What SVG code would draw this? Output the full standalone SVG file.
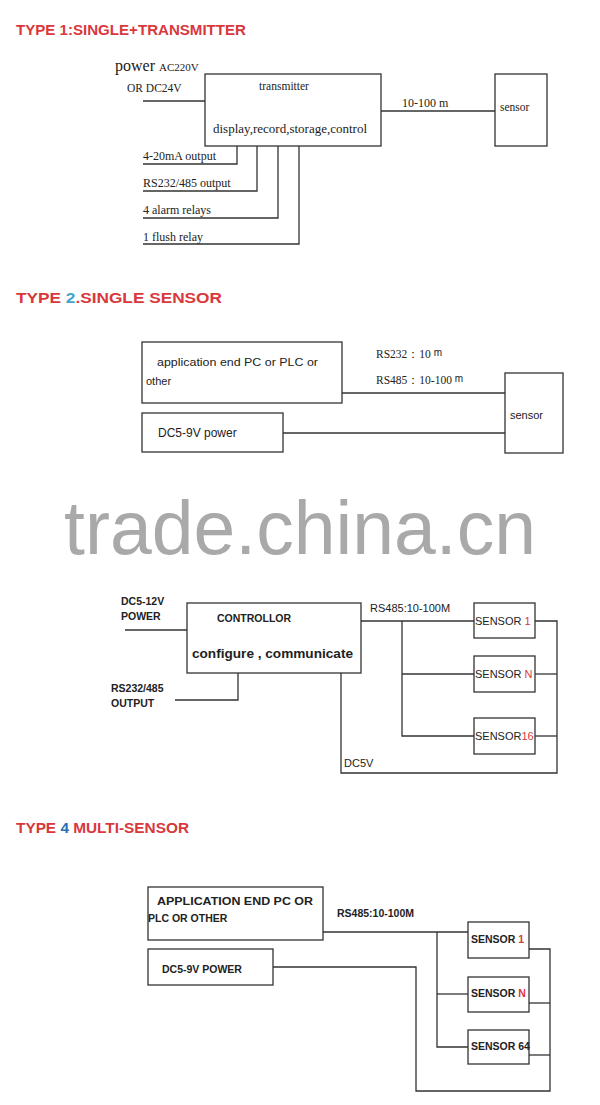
<svg xmlns="http://www.w3.org/2000/svg" width="600" height="1105" viewBox="0 0 600 1105">
<style>
.bx{fill:none;stroke:#333;stroke-width:1.3}
.ln{fill:none;stroke:#333;stroke-width:1.3}
.title{font-family:"Liberation Sans",Arial,sans-serif;font-weight:bold;font-size:14px;fill:#d8383c}
.sr{font-family:"Liberation Serif","Times New Roman",serif;fill:#222;font-size:12px}
.ss{font-family:"Liberation Sans",Arial,sans-serif;fill:#222;font-size:11px}
.sb{font-family:"Liberation Sans",Arial,sans-serif;fill:#222;font-size:10.5px;font-weight:bold}
.red{fill:#d8383c}
.wm{font-family:"Liberation Sans",Arial,sans-serif;font-size:76px;fill:#a9a9a9}
</style>
<rect width="600" height="1105" fill="#fff"/>

<!-- TYPE 1 -->
<text class="title" x="16" y="35" textLength="230" lengthAdjust="spacingAndGlyphs">TYPE 1:SINGLE+TRANSMITTER</text>
<g id="power1">
<text class="sr" x="115" y="71" style="font-size:16px">power <tspan style="font-size:11px">AC220V</tspan></text>
<text class="sr" x="127" y="92" style="font-size:11.5px">OR DC24V</text>
</g>
<g id="transmitter">
<rect class="bx" x="205" y="74" width="176" height="72"/>
<text class="sr" x="284" y="90" text-anchor="middle" style="font-size:11.5px">transmitter</text>
<text class="sr" x="213" y="133" textLength="154" lengthAdjust="spacingAndGlyphs">display,record,storage,control</text>
</g>
<g id="sensor1">
<rect class="bx" x="495" y="74" width="52" height="72"/>
<text class="sr" x="500" y="111" style="font-size:11.5px">sensor</text>
</g>
<g id="outputs1">
<text class="sr" x="143" y="160">4-20mA  output</text>
<text class="sr" x="143" y="187">RS232/485  output</text>
<text class="sr" x="143" y="214">4  alarm relays</text>
<text class="sr" x="143" y="241">1   flush relay</text>
</g>
<g id="connectors1">
<line class="ln" x1="143" y1="101" x2="205" y2="101"/>
<line class="ln" x1="381" y1="111" x2="495" y2="111"/>
<text class="sr" x="402" y="107">10-100 m</text>
<polyline class="ln" points="143,164 237,164 237,146"/>
<polyline class="ln" points="143,191 257,191 257,146"/>
<polyline class="ln" points="143,218 278,218 278,146"/>
<polyline class="ln" points="143,244 299,244 299,146"/>
</g>

<!-- TYPE 2 -->
<text class="title" x="16" y="303" textLength="206" lengthAdjust="spacingAndGlyphs">TYPE <tspan fill="#3ea6cc">2</tspan>.SINGLE SENSOR</text>
<g id="app2">
<rect class="bx" x="142" y="342" width="200" height="61"/>
<text class="ss" x="157" y="366" textLength="161" lengthAdjust="spacingAndGlyphs">application end PC or PLC or</text>
<text class="ss" x="146" y="385">other</text>
</g>
<g id="power2">
<rect class="bx" x="142" y="413" width="141" height="39"/>
<text class="ss" x="158" y="437" style="font-size:12px">DC5-9V power</text>
</g>
<g id="sensor2">
<rect class="bx" x="505" y="373" width="58" height="80"/>
<text class="ss" x="510" y="419">sensor</text>
</g>
<g id="connectors2">
<line class="ln" x1="342" y1="393" x2="505" y2="393"/>
<line class="ln" x1="283" y1="433" x2="505" y2="433"/>
<text class="sr" x="376" y="358" style="font-size:11.5px">RS232：10 <tspan class="ss" style="font-size:10px" dy="-2">m</tspan></text>
<text class="sr" x="376" y="384" style="font-size:11.5px">RS485：10-100 <tspan class="ss" style="font-size:10px" dy="-2">m</tspan></text>
</g>

<!-- watermark -->
<text class="wm" x="64" y="554" textLength="472" lengthAdjust="spacingAndGlyphs">trade.china.cn</text>

<!-- TYPE 3 -->
<g id="power3">
<text class="sb" x="121" y="605">DC5-12V</text>
<text class="sb" x="121" y="620">POWER</text>
</g>
<g id="controller">
<rect class="bx" x="187" y="603" width="174" height="70"/>
<text class="sb" x="217" y="622">CONTROLLOR</text>
<text class="sb" x="192" y="658" style="font-size:12.5px" textLength="161" lengthAdjust="spacingAndGlyphs">configure , communicate</text>
</g>
<g id="output3">
<text class="sb" x="111" y="692">RS232/485</text>
<text class="sb" x="111" y="707">OUTPUT</text>
</g>
<g id="s3-1">
<rect class="bx" x="474" y="603" width="61" height="35"/>
<text class="ss" x="475" y="625">SENSOR <tspan class="red">1</tspan></text>
</g>
<g id="s3-n">
<rect class="bx" x="474" y="656" width="61" height="36"/>
<text class="ss" x="475" y="678">SENSOR <tspan class="red">N</tspan></text>
</g>
<g id="s3-16">
<rect class="bx" x="474" y="718" width="61" height="36"/>
<text class="ss" x="475" y="740">SENSOR<tspan class="red">16</tspan></text>
</g>
<g id="connectors3">
<line class="ln" x1="125" y1="630" x2="187" y2="630"/>
<polyline class="ln" points="175,700 238,700 238,673"/>
<line class="ln" x1="361" y1="621" x2="474" y2="621"/>
<polyline class="ln" points="402,621 402,736 474,736"/>
<line class="ln" x1="402" y1="674" x2="474" y2="674"/>
<polyline class="ln" points="341,673 341,773 557,773 557,621 535,621"/>
<line class="ln" x1="535" y1="674" x2="557" y2="674"/>
<line class="ln" x1="535" y1="736" x2="557" y2="736"/>
<text class="ss" x="370" y="612">RS485:10-100M</text>
<text class="ss" x="344" y="767">DC5V</text>
</g>

<!-- TYPE 4 -->
<text class="title" x="16" y="833" textLength="173" lengthAdjust="spacingAndGlyphs">TYPE <tspan fill="#2e6fb4">4</tspan> MULTI-SENSOR</text>
<g id="app4">
<rect class="bx" x="148" y="887" width="175" height="53"/>
<text class="sb" x="157" y="905" textLength="156" lengthAdjust="spacingAndGlyphs">APPLICATION END PC OR</text>
<text class="sb" x="148" y="922">PLC OR OTHER</text>
</g>
<g id="power4">
<rect class="bx" x="148" y="949" width="125" height="36"/>
<text class="sb" x="162" y="973">DC5-9V POWER</text>
</g>
<g id="s4-1">
<rect class="bx" x="468" y="922" width="61" height="36"/>
<text class="sb" x="471" y="943">SENSOR <tspan class="red">1</tspan></text>
</g>
<g id="s4-n">
<rect class="bx" x="468" y="977" width="61" height="35"/>
<text class="sb" x="471" y="997">SENSOR <tspan class="red">N</tspan></text>
</g>
<g id="s4-64">
<rect class="bx" x="468" y="1030" width="61" height="34"/>
<text class="sb" x="471" y="1050">SENSOR 64</text>
</g>
<g id="connectors4">
<line class="ln" x1="323" y1="932" x2="468" y2="932"/>
<polyline class="ln" points="437,932 437,1047 468,1047"/>
<line class="ln" x1="437" y1="994" x2="468" y2="994"/>
<polyline class="ln" points="273,967 416,967 416,1091 550,1091 550,949 529,949"/>
<line class="ln" x1="529" y1="1003" x2="550" y2="1003"/>
<line class="ln" x1="529" y1="1055" x2="550" y2="1055"/>
<text class="sb" x="337" y="917">RS485:10-100M</text>
</g>
</svg>
